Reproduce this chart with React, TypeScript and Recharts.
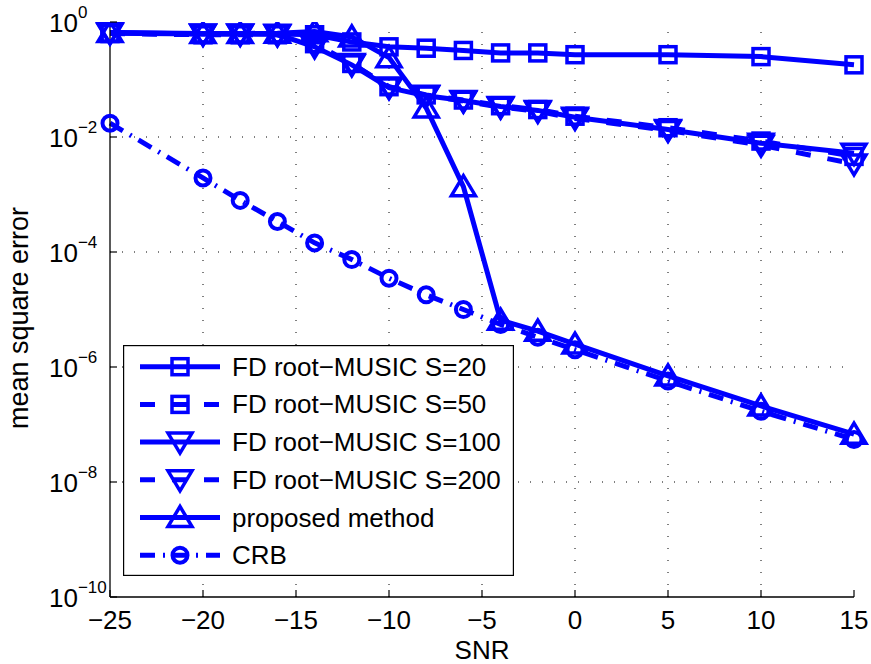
import React from 'react'
import { LineChart, Line, XAxis, YAxis, ReferenceLine, Legend } from 'recharts'

const snr = [-25, -20, -18, -16, -14, -12, -10, -8, -6, -4, -2, 0, 5, 10, 15]
const fdS20 = [0.64, 0.62, 0.62, 0.62, 0.6, 0.45, 0.37, 0.35, 0.32, 0.29, 0.29, 0.27, 0.27, 0.25, 0.18]
const fdS50 = [0.63, 0.6, 0.6, 0.6, 0.42, 0.19, 0.075, 0.054, 0.044, 0.035, 0.03, 0.023, 0.0145, 0.0085, 0.0046]
const fdS100 = [0.66, 0.62, 0.62, 0.61, 0.37, 0.18, 0.072, 0.052, 0.043, 0.034, 0.029, 0.022, 0.0135, 0.0078, 0.0052]
const fdS200 = [0.64, 0.61, 0.61, 0.6, 0.4, 0.19, 0.074, 0.053, 0.042, 0.033, 0.028, 0.021, 0.013, 0.0072, 0.0034]
const proposed = [0.66, 0.63, 0.63, 0.64, 0.68, 0.55, 0.24, 0.032, 0.00137, 6.5e-6, 4.2e-6, 2.5e-6, 7.0e-7, 2.1e-7, 6.8e-8]
const crb = [0.0174, 1.94e-3, 7.9e-4, 3.4e-4, 1.44e-4, 7.4e-5, 3.5e-5, 1.8e-5, 1.0e-5, 5.5e-6, 3.3e-6, 2.0e-6, 5.7e-7, 1.7e-7, 5.5e-8]

const xTicks = [-25, -20, -15, -10, -5, 0, 5, 10, 15]
const yTicks = [1e-10, 1e-8, 1e-6, 1e-4, 1e-2, 1]

const data = snr.map((x, i) => ({
  snr: x,
  s20: fdS20[i],
  s50: fdS50[i],
  s100: fdS100[i],
  s200: fdS200[i],
  proposed: proposed[i],
  crb: crb[i]
}))

const BLUE = '#0000ff'
const FONT = '"Liberation Sans", Arial, Helvetica, sans-serif'
const LW = 5

// markers
const Square = ({ cx, cy }: any) => (
  <rect x={cx - 8} y={cy - 8} width={16} height={16} fill="none" stroke={BLUE} strokeWidth={3.5} />
)
const TriDown = ({ cx, cy }: any) => (
  <polygon
    points={`${cx - 12},${cy - 9} ${cx + 12},${cy - 9} ${cx},${cy + 11}`}
    fill="none"
    stroke={BLUE}
    strokeWidth={3.5}
  />
)
const TriUp = ({ cx, cy }: any) => (
  <polygon
    points={`${cx - 12},${cy + 9} ${cx + 12},${cy + 9} ${cx},${cy - 11}`}
    fill="none"
    stroke={BLUE}
    strokeWidth={3.5}
  />
)
const Ring = ({ cx, cy }: any) => (
  <circle cx={cx} cy={cy} r={7.5} fill="none" stroke={BLUE} strokeWidth={4} />
)

const dotOf = (M: any) => (props: any) => {
  if (props.cx == null || props.cy == null) return <g key={props.index} />
  return <M key={props.index} cx={props.cx} cy={props.cy} />
}

const series = [
  { key: 's20', name: 'FD root\u2212MUSIC S=20', marker: Square, dash: undefined },
  { key: 's50', name: 'FD root\u2212MUSIC S=50', marker: Square, dash: '15 17' },
  { key: 's100', name: 'FD root\u2212MUSIC S=100', marker: TriDown, dash: undefined },
  { key: 's200', name: 'FD root\u2212MUSIC S=200', marker: TriDown, dash: '15 17' },
  { key: 'proposed', name: 'proposed method', marker: TriUp, dash: undefined },
  { key: 'crb', name: 'CRB', marker: Ring, dash: '15 8 2 8' }
]

// y tick: 10 with superscript exponent, plus inward tick mark
const YTick = ({ x, y, payload }: any) => {
  const exp = Math.round(Math.log10(payload.value))
  const label = exp === 0 ? '0' : '\u2212' + Math.abs(exp)
  return (
    <g>
      <line x1={x} x2={x + 7} y1={y} y2={y} stroke="#000" strokeWidth={1.2} />
      <text x={49} y={y + 10} fontSize={26} fontFamily={FONT} fill="#000">
        10
        <tspan dy={-14} fontSize={17}>{label}</tspan>
      </text>
    </g>
  )
}

const XTick = ({ x, y, payload }: any) => {
  const v = payload.value
  const label = v < 0 ? '\u2212' + Math.abs(v) : String(v)
  return (
    <g>
      <line x1={x} x2={x} y1={y} y2={y - 7} stroke="#000" strokeWidth={1.2} />
      <text x={x} y={y + 32} fontSize={26} textAnchor="middle" fontFamily={FONT} fill="#000">
        {label}
      </text>
    </g>
  )
}

const TopTick = ({ x, y }: any) => (
  <line x1={x} x2={x} y1={y} y2={y + 7} stroke="#000" strokeWidth={1.2} />
)

const RightTick = ({ x, y }: any) => (
  <line x1={x} x2={x - 7} y1={y} y2={y} stroke="#000" strokeWidth={1.2} />
)

const LegendBox = () => {
  const rowH = 37.7
  return (
    <svg width={391} height={231} style={{ display: 'block' }}>
      <rect x={0.6} y={0.6} width={389.8} height={229.8} fill="#fff" stroke="#000" strokeWidth={1.2} />
      {series.map((s, i) => {
        const cy = 21.7 + i * rowH
        const M = s.marker
        return (
          <g key={s.key}>
            <line x1={17} x2={97} y1={cy} y2={cy} stroke={BLUE} strokeWidth={LW} strokeDasharray={s.dash} />
            <M cx={57} cy={cy} />
            <text x={109} y={cy + 9} fontSize={26} fontFamily={FONT} fill="#000">
              {s.name}
            </text>
          </g>
        )
      })}
    </svg>
  )
}

export default function App() {
  return (
    <div style={{ position: 'absolute', left: 0, top: 0, background: '#fff' }}>
      <LineChart width={871} height={664} data={data} margin={{ top: 22, right: 17, left: 0, bottom: 0 }}>
        <XAxis
          dataKey="snr"
          type="number"
          domain={[-25, 15]}
          ticks={xTicks}
          interval={0}
          height={67}
          tickSize={0}
          tickMargin={0}
          tickLine={false}
          axisLine={{ stroke: '#000', strokeWidth: 1.3 }}
          tick={<XTick />}
          label={{
            content: () => (
              <text x={482} y={659} fontSize={26} textAnchor="middle" fontFamily={FONT} fill="#000">
                SNR
              </text>
            )
          }}
        />
        <XAxis
          xAxisId="top"
          orientation="top"
          dataKey="snr"
          type="number"
          domain={[-25, 15]}
          ticks={xTicks}
          interval={0}
          height={0}
          tickSize={0}
          tickMargin={0}
          tickLine={false}
          axisLine={{ stroke: '#000', strokeWidth: 1.3 }}
          tick={<TopTick />}
        />
        <YAxis
          type="number"
          scale="log"
          domain={[1e-10, 1]}
          ticks={yTicks}
          interval={0}
          allowDataOverflow
          width={110}
          tickSize={0}
          tickMargin={0}
          tickLine={false}
          axisLine={{ stroke: '#000', strokeWidth: 1.3 }}
          tick={<YTick />}
          label={{
            content: () => (
              <text
                x={28}
                y={318}
                fontSize={27}
                textAnchor="middle"
                fontFamily={FONT}
                fill="#000"
                transform="rotate(-90, 28, 318)"
              >
                mean square error
              </text>
            )
          }}
        />
        <YAxis
          yAxisId="right"
          orientation="right"
          type="number"
          scale="log"
          domain={[1e-10, 1]}
          ticks={yTicks}
          interval={0}
          allowDataOverflow
          width={0}
          tickSize={0}
          tickMargin={0}
          tickLine={false}
          axisLine={{ stroke: '#000', strokeWidth: 1.3 }}
          tick={<RightTick />}
        />
        {xTicks.slice(1, -1).map((t) => (
          <ReferenceLine key={'gx' + t} x={t} stroke="#000" strokeWidth={1} strokeDasharray="1 11" />
        ))}
        {yTicks.slice(1, -1).map((t) => (
          <ReferenceLine key={'gy' + t} y={t} stroke="#000" strokeWidth={1} strokeDasharray="1 11" />
        ))}
        {series.map((s) => (
          <Line
            key={s.key}
            dataKey={s.key}
            name={s.name}
            type="linear"
            stroke={BLUE}
            strokeWidth={LW}
            strokeDasharray={s.dash}
            dot={dotOf(s.marker)}
            activeDot={false}
            isAnimationActive={false}
          />
        ))}
        <Legend
          layout="vertical"
          align="center"
          verticalAlign="middle"
          width={391}
          height={231}
          content={() => <LegendBox />}
          wrapperStyle={{ left: 123, top: 345, width: 391, height: 231 }}
        />
      </LineChart>
    </div>
  )
}
